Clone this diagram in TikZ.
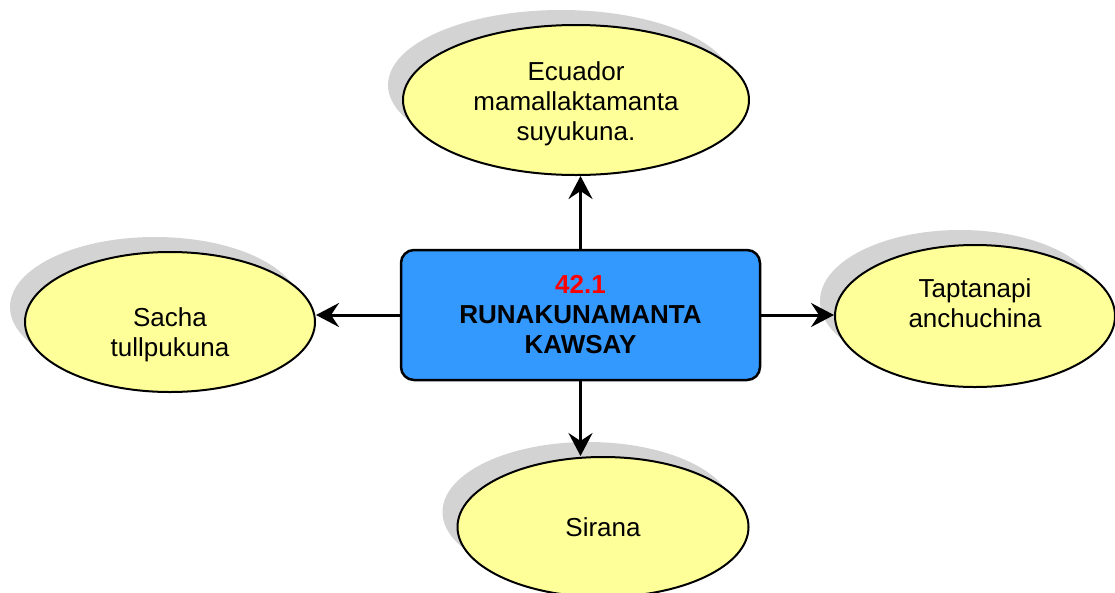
\documentclass[tikz,border=0pt]{standalone}
\usepackage{fontspec}
\setmainfont{Liberation Sans}
\usetikzlibrary{arrows.meta,shapes.geometric,shadows}
\definecolor{bubblefill}{HTML}{FFFF99}
\definecolor{hubfill}{HTML}{3399FF}
\definecolor{shadowgray}{HTML}{D3D3D3}

\begin{document}
\begin{tikzpicture}[x=1pt, y=-1pt,
        bubble/.style={ellipse, draw=black, line width=2pt, fill=bubblefill, inner sep=0pt, align=center,
            font={\fontsize{26}{30}\selectfont},
            general shadow={fill=shadowgray, shadow xshift=-15pt, shadow yshift=15pt}},
        hubbox/.style={rectangle, rounded corners=13pt, draw=black, line width=2.5pt, fill=hubfill, align=center,
            font={\fontsize{26}{30}\selectfont\bfseries}},
        link/.style={line width=3pt, -{Stealth[length=23pt, width=24pt, inset=8pt]}}]
        \useasboundingbox (0,0) rectangle (1115,592);
        \node[hubbox, minimum width=359pt, minimum height=130pt] (hub) at (580.5,315) {\textcolor{red}{42.1}\\RUNAKUNAMANTA\\KAWSAY};
        \node[bubble, minimum width=346pt, minimum height=150pt] (ecuador) at (576,100)
            {\raisebox{-4.5pt}[\height][\depth]{\begin{tabular}{@{}c@{}}Ecuador\\mamallaktamanta\\suyukuna.\end{tabular}}};
        \node[bubble, minimum width=290pt, minimum height=140pt] (sacha) at (170,322)
            {\raisebox{-13.5pt}[\height][\depth]{\begin{tabular}{@{}c@{}}Sacha\\tullpukuna\end{tabular}}};
        \node[bubble, minimum width=280pt, minimum height=142pt] (taptanapi) at (975,316)
            {\raisebox{10pt}[\height][\depth]{\begin{tabular}{@{}c@{}}Taptanapi\\anchuchina\end{tabular}}};
        \node[bubble, minimum width=291pt, minimum height=140pt] (sirana) at (603,527) {Sirana};
        \draw[link] (hub.north) -- (hub.north |- ecuador.south);
        \draw[link] (hub.west) -- (hub.west -| sacha.east);
        \draw[link] (hub.east) -- (hub.east -| taptanapi.west);
        \draw[link] (hub.south) -- (hub.south |- sirana.north);
    \end{tikzpicture}
\end{document}
